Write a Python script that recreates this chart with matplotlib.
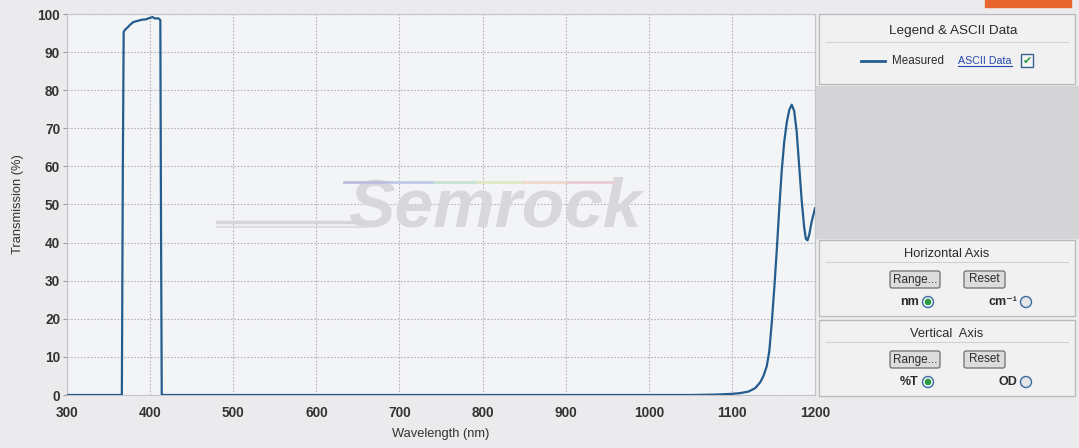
import numpy as np
import matplotlib.pyplot as plt
from matplotlib.patches import Rectangle, FancyBboxPatch, Circle

plt.rcParams['font.family'] = ['Liberation Sans', 'DejaVu Sans']

# measured transmission spectrum
wavelength = [300, 366, 367.2, 368.2, 370, 373, 376, 380, 385, 390, 395, 400, 403,
              406, 409, 411, 412.3, 413.2, 414, 500, 700, 900, 1000, 1050, 1080,
              1100, 1110, 1120, 1128, 1134, 1138, 1142, 1145, 1148, 1151, 1154,
              1157, 1160, 1163, 1166, 1169, 1172, 1175, 1178, 1181, 1184, 1187,
              1189, 1191, 1193, 1196, 1200]
transmission = [0, 0, 60, 95.3, 95.9, 96.5, 97.2, 97.9, 98.2, 98.5, 98.6, 99.0, 99.2,
                98.8, 98.9, 98.7, 98.4, 40, 0, 0, 0, 0, 0, 0, 0.1,
                0.3, 0.5, 0.9, 1.8, 3.3, 5, 7.6, 11.5, 19, 28, 38,
                49, 59, 66.5, 71.5, 74.8, 76.2, 74.5, 69, 60, 51, 44,
                41, 40.6, 42, 45.5, 49]

x_ticks = list(range(300, 1201, 100))
y_ticks = list(range(0, 101, 10))

W, H = 1079, 448
fig = plt.figure(figsize=(W / 100, H / 100), dpi=100, facecolor='#ebebed')

# overlay in pixel coordinates for the side panel
ov = fig.add_axes([0, 0, 1, 1], zorder=0)
ov.set_xlim(0, W)
ov.set_ylim(H, 0)
ov.axis('off')

border = '#b9b9bc'
panel_bg = '#f1f1f2'
txt = '#2b2b2b'

# orange tab top right
ov.add_patch(Rectangle((985, 0), 86, 7, color='#e8652d'))

# legend box
ov.add_patch(Rectangle((819, 14), 256, 70, facecolor=panel_bg, edgecolor=border, lw=0.9))
ov.plot([826, 1068], [42, 42], color='#d2d2d4', lw=0.8)
ov.text(953, 31, 'Legend & ASCII Data', ha='center', va='center', fontsize=9.7, color=txt)
ov.plot([861, 885], [61, 61], color='#245c8e', lw=2)
ov.text(892, 61, 'Measured', ha='left', va='center', fontsize=8.4, color=txt)
ov.text(958, 61, 'ASCII Data', ha='left', va='center', fontsize=7.7, color='#2448b0')
ov.plot([958, 1012], [66, 66], color='#2448b0', lw=0.8)
ov.add_patch(Rectangle((1021, 54), 12, 13, facecolor='#f4f4f4', edgecolor='#34608c', lw=1))
ov.text(1027, 61, '\u2714', ha='center', va='center', fontsize=8, color='#2a9a3c',
        family=['DejaVu Sans'])

# gray filler area
ov.add_patch(Rectangle((815, 86), 264, 152, color='#d5d5d8'))

# horizontal / vertical axis boxes
for top, title, lab1, lab2 in [(240, 'Horizontal Axis', 'nm', 'cm\u207b\u00b9'),
                               (320, 'Vertical  Axis', '%T', 'OD')]:
    ov.add_patch(Rectangle((819, top), 256, 76, facecolor=panel_bg, edgecolor=border, lw=0.9))
    ov.plot([826, 1068], [top + 22, top + 22], color='#d2d2d4', lw=0.8)
    ov.text(947, top + 14, title, ha='center', va='center', fontsize=9.3, color=txt)
    for bx, bw, blab in [(890, 50, 'Range...'), (964, 41, 'Reset')]:
        ov.add_patch(FancyBboxPatch((bx, top + 31), bw, 17, boxstyle='round,pad=0,rounding_size=2',
                                    facecolor='#dcdcdc', edgecolor='#6d6d6d', lw=0.9))
        ov.text(bx + bw / 2, top + 39.5, blab, ha='center', va='center', fontsize=8.5, color=txt)
    ov.text(919, top + 62, lab1, ha='right', va='center', fontsize=9,
            fontweight='bold', color=txt)
    ov.add_patch(Circle((928, top + 62), 5.5, facecolor='#f7f7f7', edgecolor='#3a6aa0', lw=1))
    ov.add_patch(Circle((928, top + 62), 2.6, color='#2f9a46'))
    ov.text(1017, top + 62, lab2, ha='right', va='center', fontsize=9,
            fontweight='bold', color=txt)
    ov.add_patch(Circle((1026, top + 62), 5.5, facecolor='#e4e6ea', edgecolor='#3a6aa0', lw=1))

# main chart
ax = fig.add_axes([67 / W, 1 - 395 / H, (815 - 67) / W, (395 - 14) / H], zorder=2)
ax.set_facecolor('#f3f4f6')

# watermark
ax.text(0.572, 0.49, 'Semrock', transform=ax.transAxes, ha='center', va='center',
        fontsize=50, fontweight='bold', style='italic', color='#d8d8db', zorder=1)
ax.plot([0.2, 0.4], [0.455, 0.455], transform=ax.transAxes, color='#d6d6d9', lw=2.5, zorder=1)
ax.plot([0.2, 0.4], [0.44, 0.44], transform=ax.transAxes, color='#dedee1', lw=1.5, zorder=1)
rainbow = ['#bcbcdf', '#bdcbe6', '#c8e2d3', '#e1e8c4', '#ecd9cb', '#e8ccd6']
for i, c in enumerate(rainbow):
    ax.plot([0.37 + i * 0.06, 0.43 + i * 0.06], [0.56, 0.56], transform=ax.transAxes,
            color=c, lw=2, zorder=1)

ax.plot(wavelength, transmission, color='#245c8e', lw=1.6, zorder=3)

ax.set_xlim(300, 1200)
ax.set_ylim(0, 100)
ax.set_xticks(x_ticks)
ax.set_yticks(y_ticks)
ax.grid(True, color='#b4b4b8', lw=0.8, linestyle=(0, (1.5, 1.5)))
ax.set_axisbelow(True)
for s in ax.spines.values():
    s.set_color('#c4c4c8')
    s.set_linewidth(0.8)
ax.tick_params(axis='both', labelsize=9.8, labelcolor='#333333', colors='#9a9a9a',
               length=3, width=0.8)
for lab in ax.get_xticklabels() + ax.get_yticklabels():
    lab.set_fontweight('bold')
ax.tick_params(axis='x', length=0, pad=8)
ax.tick_params(axis='y', pad=2)
ax.set_xlabel('Wavelength (nm)', fontsize=9.3, color='#333333', labelpad=6)
ax.set_ylabel('Transmission (%)', fontsize=9.3, color='#333333', labelpad=10)

fig.savefig('out.png', dpi=100, facecolor=fig.get_facecolor())
